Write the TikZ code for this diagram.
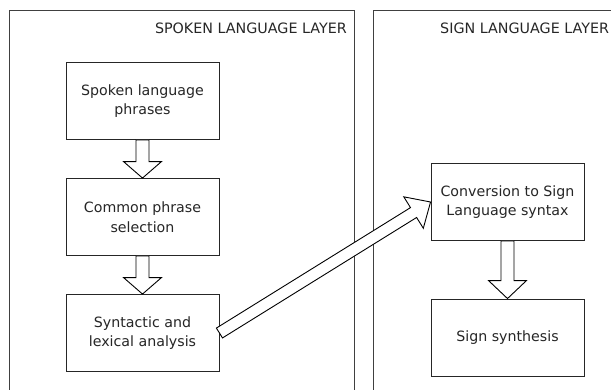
\documentclass[tikz,border=0pt]{standalone}
\usepackage{fontspec}
\setmainfont{DejaVu Sans}
\usetikzlibrary{calc}
% hollow block arrow: from, to, shaft half-width, head half-width, head length
\newcommand\hollowarrow[5]{%
  \path (#1) coordinate (ha-a) (#2) coordinate (ha-b);
  \path ($(ha-b)!#5!(ha-a)$) coordinate (ha-h);
  \draw[arrowline] ($(ha-a)!#3!90:(ha-b)$) -- ($(ha-h)!#3!-90:(ha-a)$)
    -- ($(ha-h)!#4!-90:(ha-a)$) -- (ha-b) -- ($(ha-h)!#4!90:(ha-a)$)
    -- ($(ha-h)!#3!90:(ha-a)$) -- ($(ha-a)!#3!-90:(ha-b)$) -- cycle;
}
\begin{document}
\begin{tikzpicture}[x=1pt,y=-1pt,
  layer/.style={draw=black!75, line width=0.9pt, inner sep=0pt, anchor=north west},
  stepbox/.style={draw=black!85, line width=0.9pt, fill=white, minimum width=153pt,
    minimum height=77pt, align=center, text=black!85, inner sep=0pt,
    font=\fontsize{14.2}{19.5}\selectfont},
  arrowline/.style={draw=black, line width=0.9pt, fill=white, line join=miter},
  title/.style={font=\fontsize{14.3}{17}\selectfont, text=black!85, inner sep=0pt}]
\useasboundingbox (0,0) rectangle (611,389);
\clip (0,0) rectangle (611,389);
\node[layer, minimum width=345pt, minimum height=450pt] (spokenlayer) at (9,10) {};
\node[layer, minimum width=300pt, minimum height=450pt] (signlayer) at (373,10) {};
\node[title, anchor=base east] (t1) at (347,33) {SPOKEN LANGUAGE LAYER};
\node[title, anchor=base west] (t2) at (440,33) {SIGN LANGUAGE LAYER};

\node[stepbox] (b1) at (142.5,101) {Spoken language\\phrases};
\node[stepbox] (b2) at (142.5,217) {Common phrase\\selection};
\node[stepbox] (b3) at (142.5,333) {Syntactic and\\lexical analysis};
\node[stepbox] (conv) at (507.5,202) {Conversion to Sign\\Language syntax};
\node[stepbox] (synth) at (507.5,337.5) {Sign synthesis};

\hollowarrow{b1.south}{b2.north}{6.5pt}{19pt}{16.5pt}
\hollowarrow{b2.south}{b3.north}{6.5pt}{19pt}{16.5pt}
\hollowarrow{conv.south}{synth.north}{6.5pt}{19pt}{18pt}
\hollowarrow{b3.east}{conv.west}{5.8pt}{18.5pt}{20pt}
\end{tikzpicture}
\end{document}
